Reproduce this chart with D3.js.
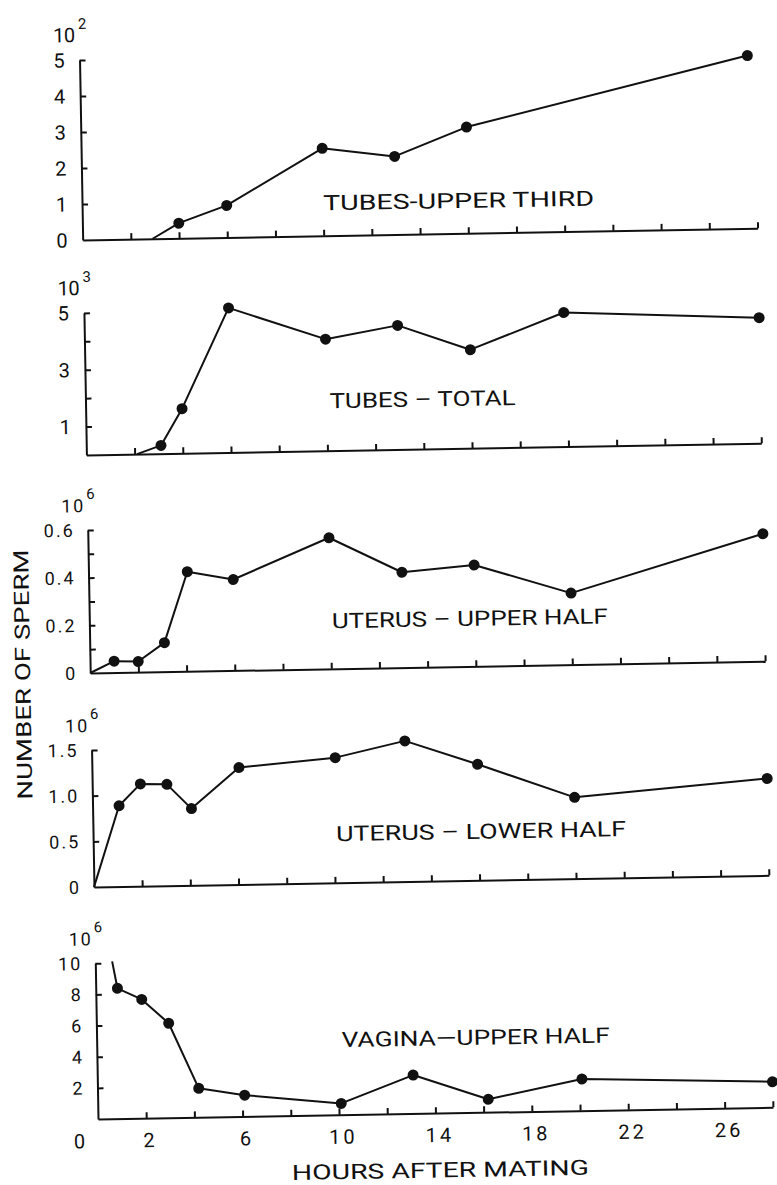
<!DOCTYPE html>
<html>
<head>
<meta charset="utf-8">
<script src="https://cdn.jsdelivr.net/npm/d3@7"></script>
<style>
  html, body { margin: 0; padding: 0; background: #fff; }
  svg { display: block; }
  text { font-family: Roboto, "Liberation Sans", sans-serif; font-weight: 400; fill: #111; }
</style>
</head>
<body>
<svg id="chart" width="777" height="1185"></svg>
<script>
// Sperm recovered from each site of the tract, by hours after mating.
// The first entry of each series is where the trace begins (drawn without a dot).
const tubesUpperHours  = [2.9, 4, 6, 10, 13, 16, 27.7];
const tubesUpperValues = [0, 0.42, 0.89, 2.43, 2.17, 2.95, 4.8];             // x 10^2
const tubesTotalHours  = [2.1, 3.1, 4, 6, 10, 13, 16, 19.9, 28];
const tubesTotalValues = [0, 0.29, 1.57, 5.09, 3.93, 4.37, 3.47, 4.72, 4.42]; // x 10^3
const uterusUpperHours  = [0, 1, 2, 3.1, 4.1, 6, 10, 13, 16, 20, 28];
const uterusUpperValues = [0, 0.048, 0.045, 0.122, 0.418, 0.382, 0.55, 0.40, 0.425, 0.30, 0.535]; // x 10^6
const uterusLowerHours  = [0, 1.1, 2, 3.1, 4.1, 6.1, 10.1, 13, 16, 20, 28];
const uterusLowerValues = [0, 0.885, 1.12, 1.11, 0.84, 1.28, 1.37, 1.54, 1.27, 0.89, 1.06];     // x 10^6
const vaginaHours  = [0.7, 0.9, 1.9, 3.0, 4.2, 6.1, 10.1, 13.1, 16.2, 20.1, 28];
const vaginaValues = [10.1, 8.37, 7.63, 6.07, 1.86, 1.37, 0.73, 2.47, 0.83, 2.03, 1.64];      // x 10^6

// Axis ticks and labels
const hourTicks  = [2, 4, 6, 8, 10, 12, 14, 16, 18, 20, 22, 24, 26, 28];
const hourLabels = [2, 6, 10, 14, 18, 22, 26];
const tubesUpperTicks  = [1, 2, 3, 4, 5];
const tubesUpperLabels = [0, 1, 2, 3, 4, 5];
const tubesTotalTicks  = [1, 2, 3, 4, 5];
const tubesTotalLabels = [1, 3, 5];
const uterusUpperTicks  = [0.1, 0.2, 0.3, 0.4, 0.5, 0.6];
const uterusUpperLabels = [0, 0.2, 0.4, 0.6];
const uterusLowerTicks  = [0.5, 1.0, 1.5];
const uterusLowerLabels = [0, 0.5, 1.0, 1.5];
const vaginaTicks  = [2, 4, 6, 8, 10];
const vaginaLabels = [2, 4, 6, 8, 10];
const panelTitles    = ["TUBES-UPPER THIRD", "TUBES – TOTAL", "UTERUS – UPPER HALF", "UTERUS – LOWER HALF", "VAGINA—UPPER HALF"];
const panelExponents = ["2", "3", "6", "6", "6"];
const panelTops      = [5, 5, 0.6, 1.5, 10];

const svg = d3.select("#chart");
// the whole sheet sits slightly turned
const root = svg.append("g").attr("transform", "rotate(-1,400,600)");

const x = d3.scaleLinear().domain([0, 28]).range([89, 764]);
const axisX = x(0);

const panels = [
  { hours: tubesUpperHours,  values: tubesUpperValues,  ticks: tubesUpperTicks,  labels: tubesUpperLabels,
    y0: 234.5, yTop: 54.5, fs: 20, fmt: d => String(d),
    title: { x: 330, y: 209, w: 271 } },
  { hours: tubesTotalHours,  values: tubesTotalValues,  ticks: tubesTotalTicks,  labels: tubesTotalLabels,
    y0: 449.5, yTop: 307.5, fs: 20, fmt: d => String(d),
    title: { x: 333, y: 407, w: 186 } },
  { hours: uterusUpperHours, values: uterusUpperValues, ticks: uterusUpperTicks, labels: uterusUpperLabels,
    y0: 667.6, yTop: 524.6, fs: 18, fmt: d => d === 0 ? "0" : d.toFixed(1),
    title: { x: 331.5, y: 627, w: 276 } },
  { hours: uterusLowerHours, values: uterusLowerValues, ticks: uterusLowerTicks, labels: uterusLowerLabels,
    y0: 881.7, yTop: 744.6, fs: 18, fmt: d => d === 0 ? "0" : d.toFixed(1),
    title: { x: 332, y: 840, w: 290 } },
  { hours: vaginaHours,      values: vaginaValues,      ticks: vaginaTicks,      labels: vaginaLabels,
    y0: 1113.7, yTop: 957.9, fs: 18, fmt: d => String(d),
    title: { x: 334, y: 1046, w: 268 } }
];

panels.forEach((p, i) => {
  const y = d3.scaleLinear().domain([0, panelTops[i]]).range([p.y0, p.yTop]);
  const g = root.append("g");

  // y axis with inward ticks
  const yAxis = g.append("g")
    .attr("transform", `translate(${axisX},0)`)
    .call(d3.axisRight(y).tickValues(p.ticks).tickSizeInner(6).tickSizeOuter(0).tickFormat(""));
  // x axis with upward ticks
  const xAxis = g.append("g")
    .attr("transform", `translate(0,${p.y0})`)
    .call(d3.axisTop(x).tickValues(hourTicks).tickSizeInner(6).tickSizeOuter(0).tickFormat(""));
  [yAxis, xAxis].forEach(a => {
    a.select(".domain").attr("stroke", "#111").attr("stroke-width", 2);
    a.selectAll(".tick line").attr("stroke", "#111").attr("stroke-width", 2);
  });

  // y tick labels
  g.selectAll("text.ylab").data(p.labels).join("text")
    .attr("class", "ylab")
    .attr("x", axisX - 13)
    .attr("y", d => y(d))
    .attr("dy", "0.36em")
    .attr("text-anchor", "end")
    .attr("font-size", p.fs)
    .attr("letter-spacing", 2)
    .text(p.fmt);

  // scale factor above the axis
  const expBase = p.yTop - 18;
  g.append("text")
    .attr("x", axisX - 26).attr("y", expBase)
    .attr("font-size", p.fs)
    .attr("textLength", 22)
    .attr("lengthAdjust", "spacing")
    .text("10");
  g.append("text")
    .attr("x", axisX - 1).attr("y", expBase - 13)
    .attr("font-size", 15)
    .text(panelExponents[i]);

  // trace
  const pts = p.hours.map((h, k) => [h, p.values[k]]);
  g.append("path")
    .datum(pts)
    .attr("fill", "none")
    .attr("stroke", "#111")
    .attr("stroke-width", 2)
    .attr("stroke-linejoin", "round")
    .attr("d", d3.line().x(d => x(d[0])).y(d => y(d[1])));

  g.selectAll("circle").data(pts.slice(1)).join("circle")
    .attr("cx", d => x(d[0]))
    .attr("cy", d => y(d[1]))
    .attr("r", 5.5)
    .attr("fill", "#111");

  // panel title
  g.append("text")
    .attr("x", p.title.x).attr("y", p.title.y)
    .attr("font-size", 21)
    .attr("textLength", p.title.w)
    .attr("lengthAdjust", "spacingAndGlyphs")
    .text(panelTitles[i]);
});

// hour labels under the bottom panel
const bottom = panels[panels.length - 1];
root.selectAll("text.xlab").data(hourLabels).join("text")
  .attr("class", "xlab")
  .attr("x", d => x(d) + 4)
  .attr("y", bottom.y0 + 29)
  .attr("text-anchor", "middle")
  .attr("font-size", 20)
  .attr("letter-spacing", 3)
  .text(d => d);
root.append("text")
  .attr("x", 70).attr("y", bottom.y0 + 29)
  .attr("text-anchor", "middle")
  .attr("font-size", 20)
  .text("0");

// axis titles
root.append("text")
  .attr("x", 430.5).attr("y", 1178)
  .attr("text-anchor", "middle")
  .attr("font-size", 21)
  .attr("textLength", 297)
  .attr("lengthAdjust", "spacingAndGlyphs")
  .text("HOURS AFTER MATING");
root.append("text")
  .attr("transform", "translate(29,668) rotate(-90)")
  .attr("text-anchor", "middle")
  .attr("font-size", 21)
  .attr("textLength", 250)
  .attr("lengthAdjust", "spacingAndGlyphs")
  .text("NUMBER OF SPERM");
</script>
</body>
</html>
